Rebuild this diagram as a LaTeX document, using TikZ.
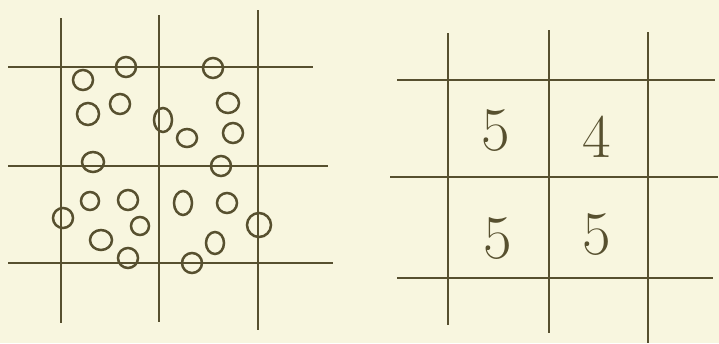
\documentclass[tikz,border=0pt]{standalone}
\usetikzlibrary{positioning}
\definecolor{ink}{HTML}{57502F}
\definecolor{paper}{HTML}{F8F6DF}
\begin{document}
\begin{tikzpicture}[x=1pt, y=-1pt, line width=2.8pt, color=ink,
    bubble/.style={line width=2.5pt},
    count/.style={font=\fontsize{62}{62}\selectfont, inner sep=0pt}]
  \fill[paper] (0,0) rectangle (719,343);
  \useasboundingbox (0,0) rectangle (719,343);
  % left grid
  \draw (61,18) -- (61,323);
  \draw (159,15) -- (159,322);
  \draw (258,10) -- (258,330);
  \draw (8,67) -- (313,67);
  \draw (8,166) -- (328,166);
  \draw (8,263) -- (333,263);
  % particles
  \foreach \cx/\cy/\rx/\ry in {126/67/10/10, 213/68/10/10, 83/80/10/10,
      228/103/11/10, 120/104/10/10, 88/114/11/11, 163/120/9/12, 187/138/10/9,
      233/133/10/10, 93/162/11/10, 221/166/10/10, 90/201/9/9, 128/200/10/10,
      183/203/9/12, 227/203/10/10, 63/218/10/10, 140/226/9/9, 259/225/12/12,
      101/240/11/10, 215/243/9/11, 128/258/10/10, 192/263/10/10}
    \draw[bubble] (\cx,\cy) ellipse [x radius=\rx pt, y radius=\ry pt];
  % right grid
  \draw (448,33) -- (448,325);
  \draw (549,30) -- (549,333);
  \draw (648,32) -- (648,343);
  \draw (397,80) -- (715,80);
  \draw (390,177) -- (718,177);
  \draw (397,278) -- (713,278);
  % counts
  \node[count] (c11) at (496,131) {5};
  \node[count] (c12) at (597,137) {4};
  \node[count] (c21) at (498,239) {5};
  \node[count] (c22) at (597,235) {5};
\end{tikzpicture}
\end{document}
